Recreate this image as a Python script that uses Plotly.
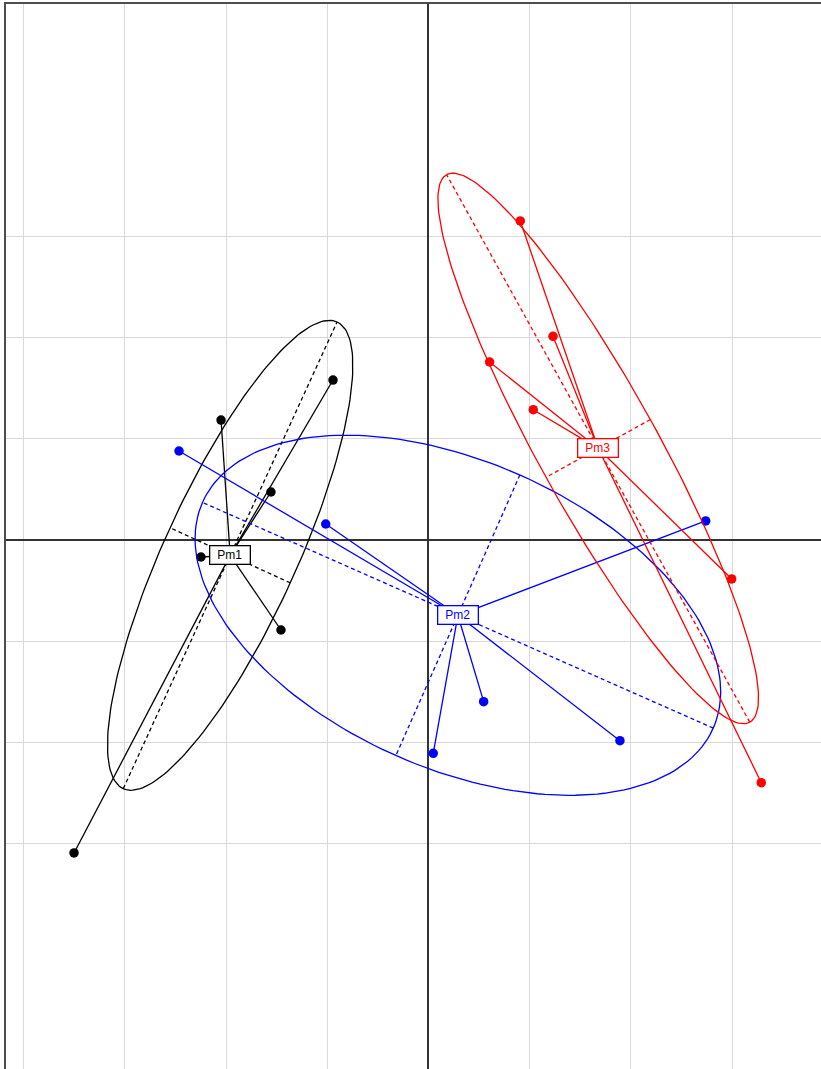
import numpy as np
import plotly.graph_objects as go

# factor-map coordinates, one list per group
groups = ["Pm1", "Pm2", "Pm3"]
colors = ["black", "blue", "red"]

pm1_x = [-0.943, -2.049, -1.556, -2.247, -1.457, -3.501]
pm1_y = [1.580, 1.185, 0.474, -0.168, -0.889, -3.091]

pm2_x = [-2.464, -1.015, 2.738, 0.545, 0.047, 1.891]
pm2_y = [0.879, 0.158, 0.188, -1.597, -2.107, -1.982]

pm3_x = [0.907, 1.230, 0.604, 1.035, 2.995, 3.287]
pm3_y = [3.151, 2.012, 1.758, 1.287, -0.385, -2.397]

grid_x = [-4, -3, -2, -1, 0, 1, 2, 3]
grid_y = [-3, -2, -1, 0, 1, 2, 3]

cellipse = 1.5

fig = go.Figure()
labels = []

for name, col, xs, ys in zip(groups, colors, [pm1_x, pm2_x, pm3_x], [pm1_y, pm2_y, pm3_y]):
    xs = np.array(xs)
    ys = np.array(ys)
    cx, cy = xs.mean(), ys.mean()
    cov = np.cov(np.vstack([xs, ys]), bias=True)
    vals, vecs = np.linalg.eigh(cov)
    a = cellipse * np.sqrt(vals[1])
    b = cellipse * np.sqrt(vals[0])
    v1 = vecs[:, 1]
    v2 = vecs[:, 0]

    t = np.linspace(0, 2 * np.pi, 200)
    ex = cx + a * np.cos(t) * v1[0] + b * np.sin(t) * v2[0]
    ey = cy + a * np.cos(t) * v1[1] + b * np.sin(t) * v2[1]
    fig.add_trace(go.Scatter(x=ex, y=ey, mode="lines", line=dict(color=col, width=1.3),
                             hoverinfo="skip"))

    # ellipse axes
    for v, r in [(v1, a), (v2, b)]:
        fig.add_trace(go.Scatter(x=[cx - r * v[0], cx + r * v[0]], y=[cy - r * v[1], cy + r * v[1]],
                                 mode="lines", line=dict(color=col, width=1.3, dash="4px,3px"),
                                 hoverinfo="skip"))

    # star
    sx, sy = [], []
    for px, py in zip(xs, ys):
        sx += [cx, px, None]
        sy += [cy, py, None]
    fig.add_trace(go.Scatter(x=sx, y=sy, mode="lines", line=dict(color=col, width=1.3),
                             hoverinfo="skip"))

    fig.add_trace(go.Scatter(x=xs, y=ys, mode="markers", marker=dict(color=col, size=9.5),
                             name=name))

    labels.append(dict(x=cx, y=cy, xref="x", yref="y", text=name, showarrow=False,
                       font=dict(family="Liberation Sans, Arial", size=12, color=col),
                       bgcolor="white", bordercolor=col, borderwidth=1.3, borderpad=1,
                       width=37, height=15))

fig.update_layout(
    width=821, height=1069,
    margin=dict(l=6, r=0, t=4, b=0),
    plot_bgcolor="white", paper_bgcolor="white",
    showlegend=False,
    annotations=labels,
)
fig.update_xaxes(range=[-4.173, 3.877], tickvals=grid_x, showticklabels=False, ticks="",
                 showgrid=True, gridcolor="#d9d9d9", gridwidth=1,
                 zeroline=True, zerolinecolor="#333333", zerolinewidth=1.6,
                 showline=True, linecolor="#4d4d4d", linewidth=2, side="top")
fig.update_yaxes(range=[-5.225, 5.294], tickvals=grid_y, showticklabels=False, ticks="",
                 showgrid=True, gridcolor="#d9d9d9", gridwidth=1,
                 zeroline=True, zerolinecolor="#333333", zerolinewidth=1.6,
                 showline=True, linecolor="#4d4d4d", linewidth=2)

fig.write_html("out.html", config={"displayModeBar": False},
               post_script="document.body.style.margin='0px';")
